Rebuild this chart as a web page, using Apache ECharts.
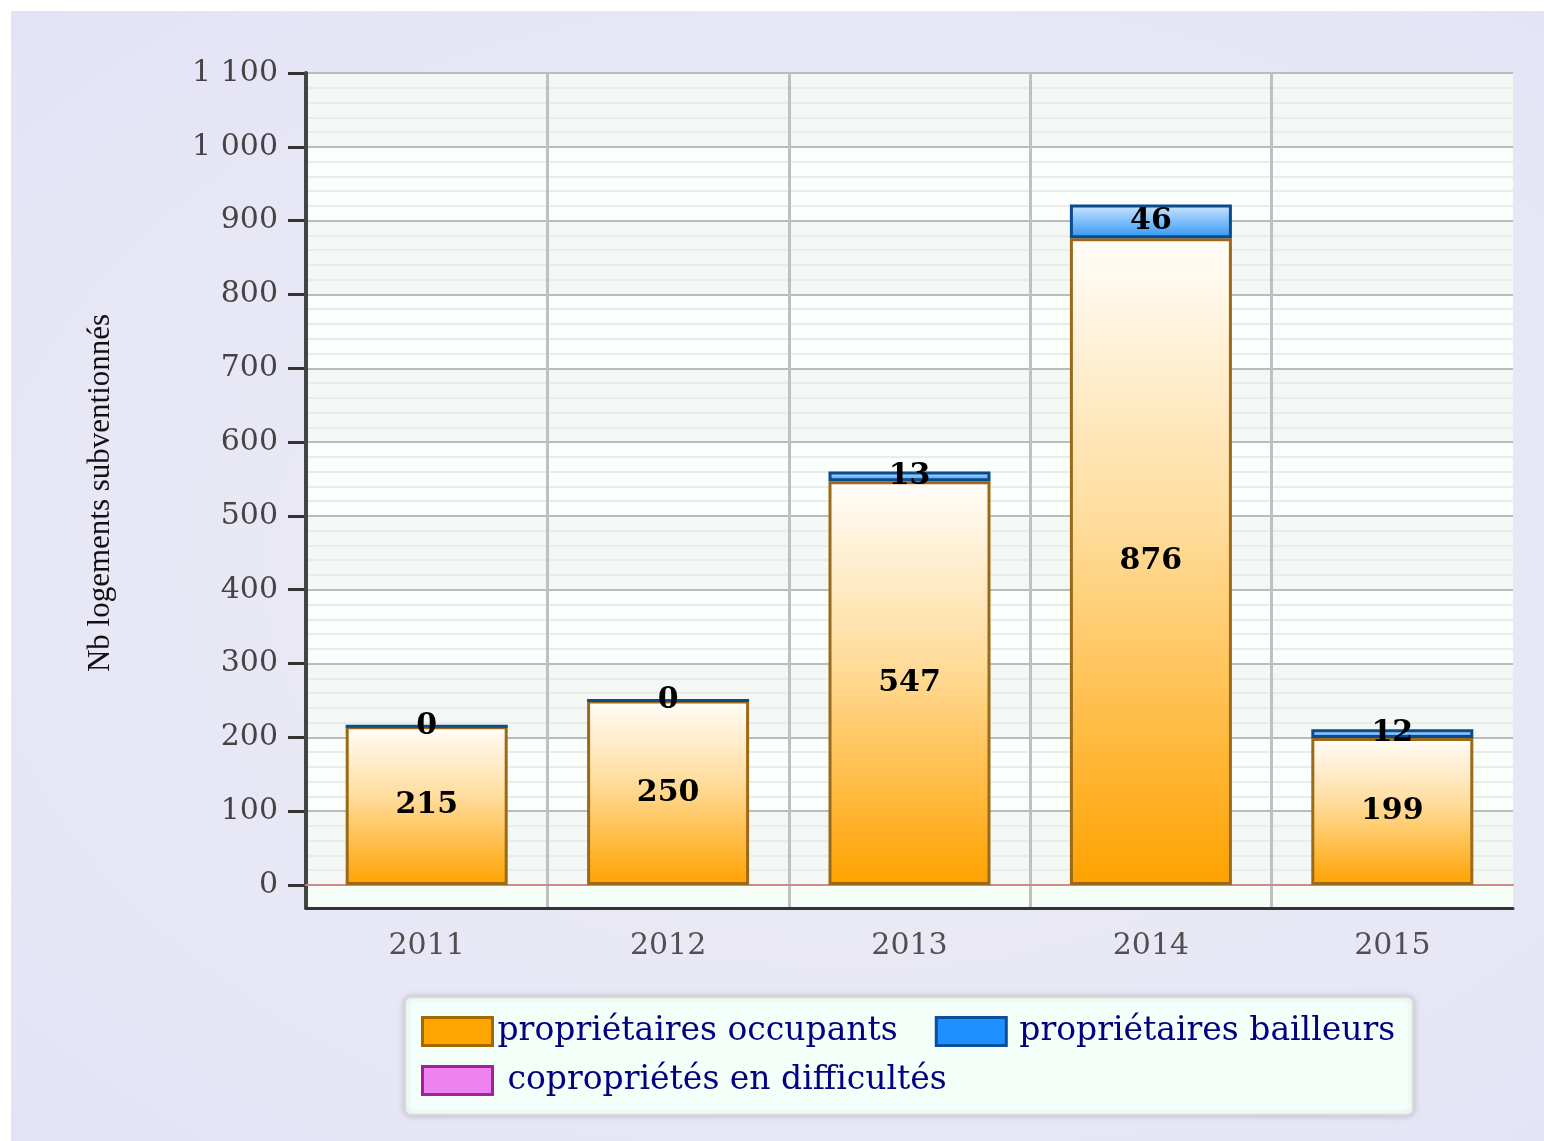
<!DOCTYPE html>
<html>
<head>
<meta charset="utf-8">
<script src="https://cdn.jsdelivr.net/npm/echarts@6/dist/echarts.min.js"></script>
<style>
  html, body { margin: 0; padding: 0; background: #ffffff; }
  #bg { position: absolute; left: 11px; top: 11px; width: 1533px; height: 1130px;
        background: radial-gradient(ellipse at 55% 50%, #efeef3 0%, #e8e8f5 55%, #e3e3f7 100%); }
  #main { position: absolute; left: 0; top: 0; width: 1544px; height: 1141px; }
</style>
</head>
<body>
<div id="bg"></div>
<div id="main"></div>
<script>
// années et valeurs
var years = ['2011', '2012', '2013', '2014', '2015'];
var occupants = [215, 250, 547, 876, 199];
var bailleurs = [0, 0, 13, 46, 12];
var copro = [0, 0, 0, 0, 0];
var seriesNames = ['propriétaires occupants', 'propriétaires bailleurs', 'copropriétés en difficultés'];

var chart = echarts.init(document.getElementById('main'));

function fmt(v) {
  return String(v).replace(/\B(?=(\d{3})+(?!\d))/g, ' ');
}

var labelStyle = {
  show: true,
  position: 'inside',
  color: '#000',
  fontFamily: 'DejaVu Serif',
  fontWeight: 'bold',
  fontSize: 30
};

var legendText = { fontFamily: 'DejaVu Serif', fontSize: 33, color: '#000080' };

var option = {
  backgroundColor: 'transparent',
  animation: false,
  grid: [
    // cadre complet (jusqu'à l'axe des catégories)
    { left: 306, right: 31, top: 73, bottom: 233, show: true, backgroundColor: '#f5fff8', borderWidth: 0 },
    // zone des données (0 .. 1100)
    { left: 306, right: 31, top: 73, bottom: 256 }
  ],
  xAxis: [
    {
      type: 'category', gridIndex: 0, data: years, z: 1,
      axisLine: { lineStyle: { color: '#333', width: 3 } },
      axisTick: { length: 12, lineStyle: { color: '#333', width: 3 } },
      axisLabel: { fontFamily: 'DejaVu Serif', fontSize: 30, color: '#505050', margin: 23 },
      splitLine: { show: true, showMaxLine: false, lineStyle: { color: '#c0c0c0', width: 3 } }
    },
    {
      type: 'category', gridIndex: 1, data: years, z: 1,
      axisLine: { lineStyle: { color: '#d08888', width: 2 } },
      axisTick: { show: false },
      axisLabel: { show: false },
      splitLine: { show: false }
    }
  ],
  yAxis: [
    {
      type: 'value', gridIndex: 0, min: 0, max: 1, z: 1,
      axisLine: { show: true, lineStyle: { color: '#444', width: 4 } },
      axisTick: { show: false }, axisLabel: { show: false }, splitLine: { show: false }
    },
    {
      type: 'value', gridIndex: 1, min: 0, max: 1100, interval: 100, z: 0,
      name: 'Nb logements subventionnés',
      nameLocation: 'middle', nameGap: 190,
      nameTextStyle: { fontFamily: 'Liberation Serif', fontSize: 31, color: '#111', padding: [0, 28, 0, 0] },
      axisLine: { show: false },
      axisTick: { show: true, length: 18, lineStyle: { color: '#333', width: 3 } },
      axisLabel: { fontFamily: 'DejaVu Serif', fontSize: 30, color: '#444', margin: 28, formatter: fmt },
      splitLine: { lineStyle: { color: '#bbbbbb', width: 2 } },
      splitArea: { show: true, areaStyle: { color: ['#f4f8f4', '#fafffb'] } },
      minorTick: { show: false, splitNumber: 5 },
      minorSplitLine: { show: true, lineStyle: { color: '#ebebeb', width: 2 } }
    }
  ],
  legend: {
    left: 405, top: 997, width: 1000,
    padding: [18, 18, 18, 16],
    itemGap: 16,
    itemWidth: 70, itemHeight: 28,
    backgroundColor: '#f5fff9',
    borderColor: '#d8d8d8', borderWidth: 2, borderRadius: 6,
    shadowBlur: 6, shadowColor: 'rgba(0,0,0,0.18)',
    formatter: function (name) {
      var k = seriesNames.indexOf(name);
      if (k === 0) {
        return '{o|' + name + '}{s|  }';
      }
      return '{' + ['o', 'b', 'c'][k] + '|' + name + '}';
    },
    textStyle: {
      fontFamily: 'DejaVu Serif', fontSize: 33, color: '#000080',
      rich: {
        o: Object.assign({}, legendText),
        s: Object.assign({}, legendText),
        b: Object.assign({ padding: [0, 0, 0, 8] }, legendText),
        c: Object.assign({ padding: [0, 0, 0, 10] }, legendText)
      }
    },
    data: [
      { name: seriesNames[0], icon: 'rect',
        itemStyle: { color: '#ffa500', borderColor: '#a06a00', borderWidth: 3 } },
      { name: seriesNames[1], icon: 'rect',
        itemStyle: { color: '#1e90ff', borderColor: '#0a4f9a', borderWidth: 3 } },
      { name: seriesNames[2], icon: 'rect',
        itemStyle: { color: '#ee82ee', borderColor: '#a020a0', borderWidth: 3 } }
    ]
  },
  series: [
    {
      name: seriesNames[0], type: 'bar', stack: 'total', xAxisIndex: 1, yAxisIndex: 1,
      barWidth: 162, data: occupants,
      itemStyle: {
        color: new echarts.graphic.LinearGradient(0, 0, 0, 1, [
          { offset: 0, color: '#fffdfa' },
          { offset: 0.45, color: '#ffdc9a' },
          { offset: 1, color: '#ffa200' }
        ]),
        borderColor: '#9a6a18', borderWidth: 3
      },
      label: labelStyle
    },
    {
      name: seriesNames[1], type: 'bar', stack: 'total', xAxisIndex: 1, yAxisIndex: 1,
      barWidth: 162, data: bailleurs,
      itemStyle: {
        color: new echarts.graphic.LinearGradient(0, 0, 0, 1, [
          { offset: 0, color: '#cfe6ff' },
          { offset: 1, color: '#2f95f5' }
        ]),
        borderColor: '#0b4a8c', borderWidth: 3
      },
      label: labelStyle
    },
    {
      name: seriesNames[2], type: 'bar', stack: 'total', xAxisIndex: 1, yAxisIndex: 1,
      barWidth: 162, data: copro,
      itemStyle: { color: '#ee82ee', borderWidth: 0 },
      label: { show: false }
    }
  ]
};

chart.setOption(option);
</script>
</body>
</html>
